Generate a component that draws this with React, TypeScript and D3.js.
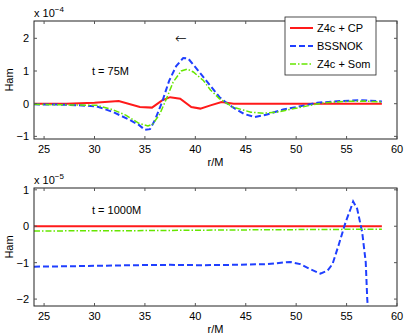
import React, { useEffect, useRef } from 'react'
import * as d3 from 'd3'

// top panel, t = 75M  (units of 1e-4)
const cpTopR = [24, 27.2, 30, 32.4, 34.5, 35.7, 36.7, 37.5, 38.5, 39.6, 40.5, 41.5, 42.6, 43.8, 50, 58.5]
const cpTopV = [0, 0, 0.03, 0.08, -0.1, -0.12, 0.1, 0.2, 0.15, -0.1, -0.15, -0.05, 0.05, 0, 0, 0]
const bssTopR = [24, 27.2, 30.2, 31.8, 33.4, 34.4, 35, 35.5, 36, 36.7, 37.4, 38.1, 38.8, 39.3, 40.1, 41.1, 42.4, 43.4, 44.8, 45.9, 47.1, 48.7, 50.4, 52.1, 54.4, 56.4, 58.5]
const bssTopV = [-0.02, -0.03, -0.08, -0.25, -0.48, -0.65, -0.8, -0.78, -0.5, 0.05, 0.7, 1.15, 1.4, 1.38, 1.08, 0.7, 0.2, -0.05, -0.31, -0.41, -0.33, -0.18, -0.08, 0.03, 0.08, 0.11, 0.07]
const somTopR = [24, 30.2, 31.8, 33.1, 34.4, 35.3, 35.8, 36.5, 37.2, 37.8, 38.6, 39.2, 39.8, 40.8, 41.5, 42.4, 43.7, 45.5, 46.8, 48.1, 49.8, 51.4, 52.8, 54.8, 56.8, 58.5]
const somTopV = [-0.02, -0.05, -0.18, -0.35, -0.6, -0.68, -0.62, -0.3, 0.2, 0.66, 1.0, 1.06, 0.97, 0.71, 0.42, 0.15, -0.1, -0.26, -0.29, -0.26, -0.15, -0.05, 0.03, 0.07, 0.08, 0.05]

// bottom panel, t = 1000M  (units of 1e-5)
const cpBotR = [24, 58.5]
const cpBotV = [0, 0]
const bssBotR = [24, 27.2, 33.8, 37.5, 40.5, 43.8, 47.1, 49.4, 50.4, 51.4, 52.4, 53.1, 53.6, 54.2, 54.9, 55.4, 55.65, 56.05, 56.55, 56.9, 57.05, 57.2]
const bssBotV = [-1.11, -1.1, -1.07, -1.06, -1.07, -1.06, -1.04, -0.98, -1.04, -1.18, -1.3, -1.22, -1.04, -0.53, 0.11, 0.48, 0.68, 0.48, -0.17, -0.99, -2.0, -2.6]
const somBotR = [24, 35, 45, 52, 58.5]
const somBotV = [-0.13, -0.12, -0.1, -0.09, -0.08]

const xTicks = [25, 30, 35, 40, 45, 50, 55, 60]
const yTicksTop = [-1, 0, 1, 2]
const yTicksBot = [-2, -1, 0, 1]

const legendNames = ['Z4c + CP', 'BSSNOK', 'Z4c + Som']

const RED = '#ff1a1a'
const BLUE = '#1f3fff'
const GREEN = '#66e600'

export default function App() {
  const ref = useRef<SVGSVGElement>(null)

  useEffect(() => {
    const svg = d3.select(ref.current)
    svg.selectAll('*').remove()
    const font = '"Liberation Sans", Arial, sans-serif'

    const styles = [
      { color: RED, width: 2, dash: null },
      { color: BLUE, width: 2, dash: '6,3' },
      { color: GREEN, width: 1.5, dash: '6,2,1.5,2' }
    ]

    function panel(id: string, top: number, bottom: number, ydom: number[], yTicks: number[], exp: string, label: string, series: number[][][]) {
      const left = 34, right = 397
      const x = d3.scaleLinear().domain([24, 60]).range([left, right])
      const y = d3.scaleLinear().domain(ydom).range([bottom, top])
      const g = svg.append('g')

      g.append('clipPath').attr('id', id).append('rect')
        .attr('x', left).attr('y', top).attr('width', right - left).attr('height', bottom - top)

      const line = d3.line<number[]>().x(d => x(d[0])).y(d => y(d[1]))
      const plot = g.append('g').attr('clip-path', 'url(#' + id + ')')
      series.forEach((s, i) => {
        const pts = s[0].map((r, k) => [r, s[1][k]])
        const p = plot.append('path').datum(pts)
          .attr('d', line)
          .attr('fill', 'none')
          .attr('stroke', styles[i].color)
          .attr('stroke-width', styles[i].width)
        if (styles[i].dash) p.attr('stroke-dasharray', styles[i].dash)
      })

      // frame
      g.append('rect').attr('x', left).attr('y', top).attr('width', right - left).attr('height', bottom - top)
        .attr('fill', 'none').attr('stroke', '#222').attr('stroke-width', 1)

      xTicks.forEach(t => {
        g.append('line').attr('x1', x(t)).attr('x2', x(t)).attr('y1', bottom).attr('y2', bottom - 3).attr('stroke', '#555')
        g.append('line').attr('x1', x(t)).attr('x2', x(t)).attr('y1', top).attr('y2', top + 3).attr('stroke', '#555')
        g.append('text').attr('x', x(t)).attr('y', bottom + 14).attr('text-anchor', 'middle')
          .attr('font-family', font).attr('font-size', 11).text(t)
      })
      yTicks.forEach(t => {
        g.append('line').attr('x1', left).attr('x2', left + 3).attr('y1', y(t)).attr('y2', y(t)).attr('stroke', '#555')
        g.append('line').attr('x1', right).attr('x2', right - 3).attr('y1', y(t)).attr('y2', y(t)).attr('stroke', '#555')
        g.append('text').attr('x', left - 5).attr('y', y(t) + 4).attr('text-anchor', 'end')
          .attr('font-family', font).attr('font-size', 11).text(t < 0 ? '\u2212' + Math.abs(t) : String(t))
      })

      const ex = g.append('text').attr('x', left).attr('y', top - 4)
        .attr('font-family', font).attr('font-size', 11)
      ex.append('tspan').text('x 10')
      ex.append('tspan').attr('dy', -5).attr('font-size', 8).text(exp)

      g.append('text').attr('transform', 'translate(13,' + (top + bottom) / 2 + ') rotate(-90)')
        .attr('text-anchor', 'middle').attr('font-family', font).attr('font-size', 11).text('Ham')
      g.append('text').attr('x', (left + right) / 2).attr('y', bottom + 27).attr('text-anchor', 'middle')
        .attr('font-family', font).attr('font-size', 11).text('r/M')
      g.append('text').attr('x', 92).attr('y', top + (id === 'cTop' ? 54 : 26))
        .attr('font-family', font).attr('font-size', 11).text(label)
      return { x, y }
    }

    panel('cTop', 21, 139, [-1.08, 2.53], yTicksTop, '\u22124', 't = 75M',
      [[cpTopR, cpTopV], [bssTopR, bssTopV], [somTopR, somTopV]])
    panel('cBot', 188, 306, [-2.19, 1.05], yTicksBot, '\u22125', 't = 1000M',
      [[cpBotR, cpBotV], [bssBotR, bssBotV], [somBotR, somBotV]])

    // arrow
    svg.append('text').attr('x', 175).attr('y', 43).attr('font-family', '"DejaVu Sans", sans-serif')
      .attr('font-size', 14).attr('font-weight', 200).text('\u2190')

    // legend
    const lg = svg.append('g')
    lg.append('rect').attr('x', 285).attr('y', 17).attr('width', 91).attr('height', 58)
      .attr('fill', 'white').attr('stroke', '#222').attr('stroke-width', 0.8)
    legendNames.forEach((n, i) => {
      const yy = 28 + i * 18
      const l = lg.append('line').attr('x1', 290).attr('x2', 313).attr('y1', yy).attr('y2', yy)
        .attr('stroke', styles[i].color).attr('stroke-width', styles[i].width)
      if (styles[i].dash) l.attr('stroke-dasharray', styles[i].dash)
      lg.append('text').attr('x', 317).attr('y', yy + 4).attr('font-family', font).attr('font-size', 11).text(n)
    })
  }, [])

  return (
    <svg ref={ref} width={407} height={336} style={{ position: 'absolute', left: 0, top: 0, background: 'white' }} />
  )
}
